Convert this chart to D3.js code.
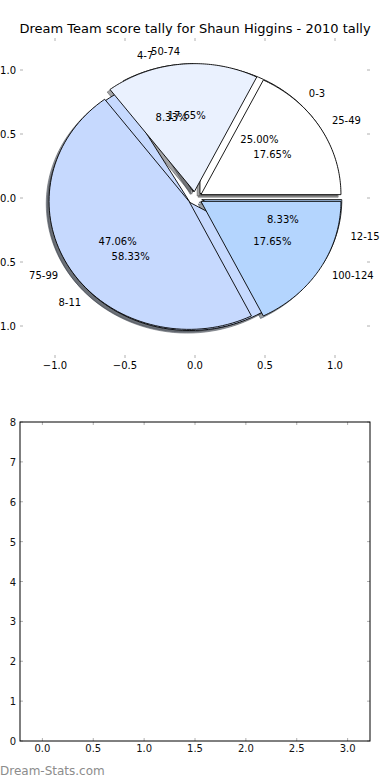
<!DOCTYPE html>
<html>
<head>
<meta charset="utf-8">
<script src="https://cdn.jsdelivr.net/npm/d3@7"></script>
<style>
  body { margin: 0; background: #fff; }
  svg { display: block; font-family: "DejaVu Sans", sans-serif; }
</style>
</head>
<body>
<script>
// data
const labels1 = ["0-3", "4-7", "8-11", "12-15"];
const counts1 = [3, 1, 7, 1];
const labels2 = ["25-49", "50-74", "75-99", "100-124"];
const counts2 = [3, 3, 8, 3];
const sliceColors = ["#ffffff", "#eaf1fe", "#c6d9fe", "#b4d5fe"];
const explode = [0.05, 0.05, 0.05, 0.05];
const pieTicks = [-1, -0.5, 0, 0.5, 1];
const barXTicks = [0, 0.5, 1, 1.5, 2, 2.5, 3];
const barYTicks = [0, 1, 2, 3, 4, 5, 6, 7, 8];

var width = 390, height = 780;
var svg = d3.select("body").append("svg")
  .attr("width", width)
  .attr("height", height);

var fmt = d => d3.format(".1f")(d).replace("-", "\u2212");

// ---- pie axes ----
var x = d3.scaleLinear().domain([-1.25, 1.25]).range([20, 370]);
var y = d3.scaleLinear().domain([-1.25, 1.25]).range([358, 38]);

svg.append("text")
  .attr("x", 195).attr("y", 33)
  .attr("text-anchor", "middle")
  .attr("font-size", "13px")
  .text("Dream Team score tally for Shaun Higgins - 2010 tally");

var tickColor = "#b0b0b0";
var gTicks = svg.append("g");
pieTicks.forEach(function(t){
  gTicks.append("line").attr("x1", x(t)).attr("x2", x(t)).attr("y1", 38).attr("y2", 41)
    .attr("stroke", tickColor);
  gTicks.append("line").attr("x1", x(t)).attr("x2", x(t)).attr("y1", 355).attr("y2", 358)
    .attr("stroke", tickColor);
  gTicks.append("line").attr("x1", 20).attr("x2", 23).attr("y1", y(t)).attr("y2", y(t))
    .attr("stroke", tickColor);
  gTicks.append("line").attr("x1", 367).attr("x2", 370).attr("y1", y(t)).attr("y2", y(t))
    .attr("stroke", tickColor);
  gTicks.append("text").attr("x", x(t)).attr("y", 369)
    .attr("text-anchor", "middle").attr("font-size", "10px").text(fmt(t));
  gTicks.append("text").attr("x", 16).attr("y", y(t) + 3.5)
    .attr("text-anchor", "end").attr("font-size", "10px").text(fmt(t));
});

var pie = d3.pie().sort(null);
var line = d3.line();

function wedgeInfo(counts, labels) {
  var total = d3.sum(counts);
  return pie(counts).map(function(d, i){
    var mid = (d.startAngle + d.endAngle) / 2;
    return {
      a0: d.startAngle, a1: d.endAngle, mid: mid,
      cx: explode[i] * Math.cos(mid), cy: explode[i] * Math.sin(mid),
      color: sliceColors[i], label: labels[i],
      pct: (100 * counts[i] / total).toFixed(2) + "%"
    };
  });
}

function wedgePath(w, dx, dy) {
  var pts = [[x(w.cx + dx), y(w.cy + dy)]];
  var n = 80;
  for (var k = 0; k <= n; k++) {
    var th = w.a0 + (w.a1 - w.a0) * k / n;
    pts.push([x(w.cx + dx + Math.cos(th)), y(w.cy + dy + Math.sin(th))]);
  }
  return line(pts) + "Z";
}

function shade(c) {
  var r = d3.rgb(c);
  return d3.rgb(r.r * 0.3, r.g * 0.3, r.b * 0.3).toString();
}

var w1 = wedgeInfo(counts1, labels1);
var w2 = wedgeInfo(counts2, labels2);

// shadows go underneath everything
var gShadow = svg.append("g");
w1.concat(w2).forEach(function(w){
  gShadow.append("path")
    .attr("d", wedgePath(w, -0.02, -0.02))
    .attr("fill", shade(w.color))
    .attr("stroke", shade(w.color))
    .attr("fill-opacity", 0.5)
    .attr("stroke-opacity", 0.5);
});

[w1, w2].forEach(function(ws){
  ws.forEach(function(w){
    svg.append("path")
      .attr("d", wedgePath(w, 0, 0))
      .attr("fill", w.color)
      .attr("stroke", "#000")
      .attr("stroke-width", 0.9)
      .attr("stroke-linejoin", "miter");
  });
});

[w1, w2].forEach(function(ws){
  ws.forEach(function(w){
    var lx = w.cx + 1.1 * Math.cos(w.mid), ly = w.cy + 1.1 * Math.sin(w.mid);
    svg.append("text")
      .attr("x", x(lx)).attr("y", y(ly) + 3.5)
      .attr("text-anchor", lx > 0 ? "start" : "end")
      .attr("font-size", "10px")
      .text(w.label);
    var px = w.cx + 0.6 * Math.cos(w.mid), py = w.cy + 0.6 * Math.sin(w.mid);
    svg.append("text")
      .attr("x", x(px)).attr("y", y(py) + 3.5)
      .attr("text-anchor", "middle")
      .attr("font-size", "10px")
      .text(w.pct);
  });
});

// ---- empty bar axes ----
var bx = d3.scaleLinear().domain([-0.22, 3.22]).range([20, 370]);
var by = d3.scaleLinear().domain([0, 8]).range([741, 422]);

var gb = svg.append("g");
barXTicks.forEach(function(t){
  gb.append("line").attr("x1", bx(t)).attr("x2", bx(t)).attr("y1", 422).attr("y2", 425)
    .attr("stroke", tickColor);
  gb.append("line").attr("x1", bx(t)).attr("x2", bx(t)).attr("y1", 738).attr("y2", 741)
    .attr("stroke", tickColor);
  gb.append("text").attr("x", bx(t)).attr("y", 752)
    .attr("text-anchor", "middle").attr("font-size", "10px").attr("fill", "#111")
    .text(t.toFixed(1));
});
barYTicks.forEach(function(t){
  gb.append("line").attr("x1", 20).attr("x2", 23).attr("y1", by(t)).attr("y2", by(t))
    .attr("stroke", tickColor);
  gb.append("line").attr("x1", 367).attr("x2", 370).attr("y1", by(t)).attr("y2", by(t))
    .attr("stroke", tickColor);
  gb.append("text").attr("x", 16).attr("y", by(t) + 4)
    .attr("text-anchor", "end").attr("font-size", "10px").attr("fill", "#111")
    .text(t);
});
gb.append("rect")
  .attr("x", 20).attr("y", 422).attr("width", 350).attr("height", 319)
  .attr("fill", "none").attr("stroke", "#000").attr("stroke-width", 1);

svg.append("text")
  .attr("x", 0).attr("y", 775)
  .attr("font-size", "12px")
  .attr("fill", "#8c8c8c")
  .text("Dream-Stats.com");
</script>
</body>
</html>
